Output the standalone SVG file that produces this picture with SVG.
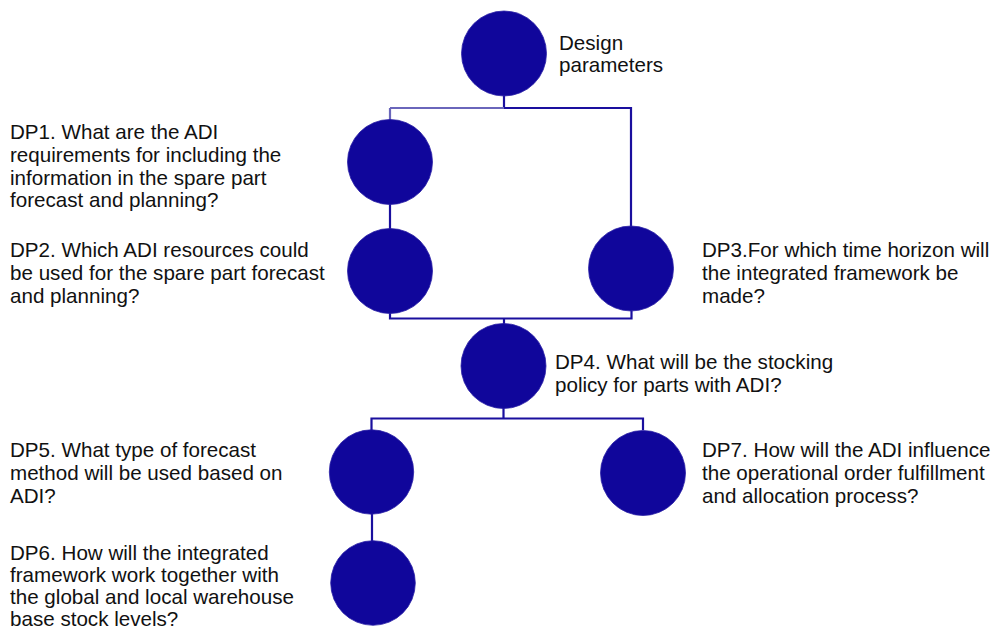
<svg xmlns="http://www.w3.org/2000/svg" width="995" height="628" viewBox="0 0 995 628">
<defs>
<style>
.n{fill:#10069b;stroke:#2a20a6;stroke-width:0.8}
.c{fill:none;stroke:#1a0f9e;stroke-width:2.2}
.l{fill:none;stroke:#6a66bb;stroke-width:2.2}
text{font-family:"Liberation Sans",Arial,sans-serif;font-size:20.6px;fill:#111}
</style>
</defs>
<rect width="995" height="628" fill="#fff"/>
<g id="connectors">
<path class="c" d="M504,96 V108"/>
<path class="l" d="M390,108 H504"/>
<path class="c" d="M504,108 H631 V226"/>
<path class="l" d="M390,108 V120"/>
<path class="c" d="M390,204 V229"/>
<path class="c" d="M390,313 V318.5 H631.5 V311"/>
<path class="c" d="M504,318.5 V324"/>
<path class="c" d="M503.5,408 V418.5"/>
<path class="c" d="M371.5,430 V418.5 H643 V430"/>
<path class="c" d="M372,514 V541"/>
</g>
<g id="dp0">
<circle class="n" cx="504" cy="53.5" r="42.5"/>
<text x="559" y="49.5">Design</text>
<text x="559" y="72.2">parameters</text>
</g>
<g id="dp1">
<circle class="n" cx="390" cy="162" r="42.5"/>
<text x="10" y="139.3">DP1. What are the ADI</text>
<text x="10" y="162">requirements for including the</text>
<text x="10" y="184.7">information in the spare part</text>
<text x="10" y="207.4">forecast and planning?</text>
</g>
<g id="dp2">
<circle class="n" cx="390" cy="271" r="42.5"/>
<text x="10" y="257.3">DP2. Which ADI resources could</text>
<text x="10" y="280">be used for the spare part forecast</text>
<text x="10" y="302.7">and planning?</text>
</g>
<g id="dp3">
<circle class="n" cx="631" cy="268.5" r="42.5"/>
<text x="702" y="257.3">DP3.For which time horizon will</text>
<text x="702" y="280">the integrated framework be</text>
<text x="702" y="302.7">made?</text>
</g>
<g id="dp4">
<circle class="n" cx="503.5" cy="366" r="42.5"/>
<text x="555" y="369">DP4. What will be the stocking</text>
<text x="555" y="391.7">policy for parts with ADI?</text>
</g>
<g id="dp5">
<circle class="n" cx="371.5" cy="472" r="42.2"/>
<text x="10" y="457.3">DP5. What type of forecast</text>
<text x="10" y="480">method will be used based on</text>
<text x="10" y="502.7">ADI?</text>
</g>
<g id="dp7">
<circle class="n" cx="643" cy="473" r="42.5"/>
<text x="702" y="457.3">DP7. How will the ADI influence</text>
<text x="702" y="480">the operational order fulfillment</text>
<text x="702" y="502.7">and allocation process?</text>
</g>
<g id="dp6">
<circle class="n" cx="373" cy="583" r="42.3"/>
<text x="10" y="559.5">DP6. How will the integrated</text>
<text x="10" y="581.5">framework work together with</text>
<text x="10" y="603.5">the global and local warehouse</text>
<text x="10" y="625.5">base stock levels?</text>
</g>
</svg>
